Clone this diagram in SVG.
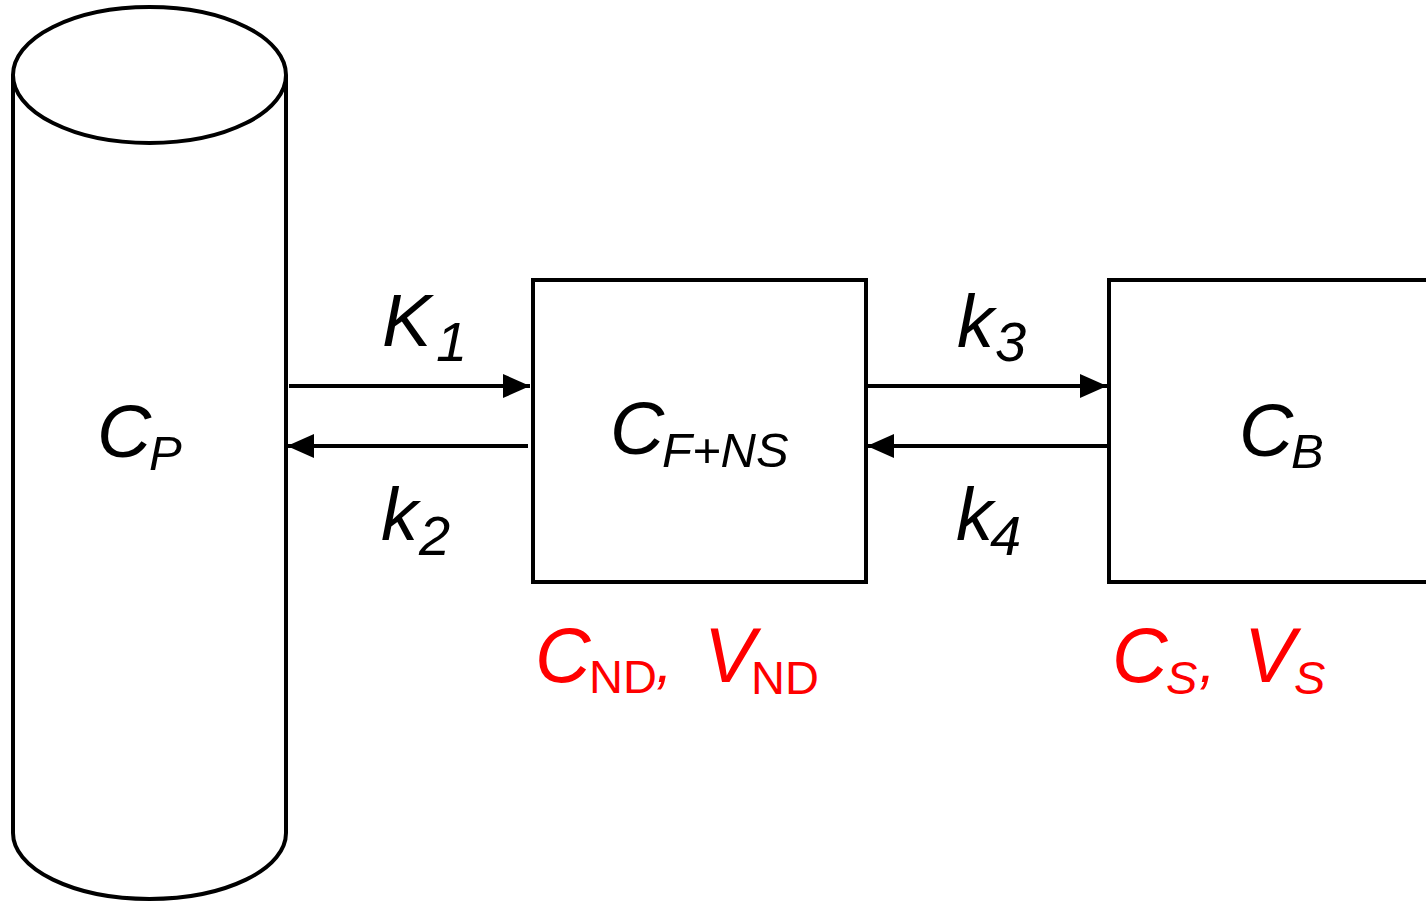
<svg xmlns="http://www.w3.org/2000/svg" width="1426" height="902" viewBox="0 0 1426 902">
<style>
.s{fill:none;stroke:#000;stroke-width:4}
.box{fill:#fff;stroke:#000;stroke-width:4}
.t{font-family:"Liberation Sans",Arial,sans-serif;font-style:italic;fill:#000}
.r{fill:#ff0000}
.up{font-style:normal}
</style>
<defs>
<marker id="ah" markerUnits="userSpaceOnUse" markerWidth="28" markerHeight="26" refX="27" refY="13" orient="auto">
<path d="M0,1 L27,13 L0,25 z" fill="#000"/>
</marker>
</defs>
<rect width="1426" height="902" fill="#fff"/>
<g id="cylinder">
<path class="s" d="M13,75 L13,833 A136.5,66 0 0 0 286,833 L286,75"/>
<ellipse class="s" cx="149.5" cy="75" rx="136.5" ry="68"/>
<text class="t" x="97" y="457" font-size="75">C</text>
<text class="t" x="149" y="470" font-size="49">P</text>
</g>
<g id="box1">
<rect class="box" x="533" y="280" width="333" height="302"/>
<text class="t" x="610" y="454" font-size="75">C</text>
<text class="t" x="662" y="467" font-size="49">F+NS</text>
</g>
<g id="box2">
<rect class="box" x="1109" y="280" width="330" height="302"/>
<text class="t" x="1239" y="456" font-size="75">C</text>
<text class="t" x="1291" y="468" font-size="49">B</text>
</g>
<g id="connectors">
<line class="s" x1="289" y1="386" x2="530" y2="386" marker-end="url(#ah)"/>
<line class="s" x1="528" y1="446" x2="287" y2="446" marker-end="url(#ah)"/>
<line class="s" x1="868" y1="386" x2="1107" y2="386" marker-end="url(#ah)"/>
<line class="s" x1="1107" y1="446" x2="867" y2="446" marker-end="url(#ah)"/>
</g>
<g id="rate-labels">
<text class="t" x="382" y="346" font-size="74">K</text>
<text class="t" x="436" y="361" font-size="56">1</text>
<text class="t" x="381" y="540" font-size="74">k</text>
<text class="t" x="419" y="555" font-size="56">2</text>
<text class="t" x="957" y="347" font-size="74">k</text>
<text class="t" x="995" y="361" font-size="56">3</text>
<text class="t" x="956" y="540" font-size="74">k</text>
<text class="t" x="990" y="555" font-size="56">4</text>
</g>
<g id="volume-labels">
<text class="t r" x="535" y="682" font-size="77">C</text>
<text class="t r up" x="589" y="693" font-size="47">ND</text>
<text class="t r" x="656" y="682" font-size="60">,</text>
<text class="t r" x="704" y="682" font-size="77">V</text>
<text class="t r up" x="751" y="694" font-size="47">ND</text>
<text class="t r" x="1112" y="682" font-size="77">C</text>
<text class="t r" x="1166" y="694" font-size="47">S</text>
<text class="t r" x="1199" y="682" font-size="60">,</text>
<text class="t r" x="1244" y="682" font-size="77">V</text>
<text class="t r" x="1294" y="694" font-size="47">S</text>
</g>
</svg>
